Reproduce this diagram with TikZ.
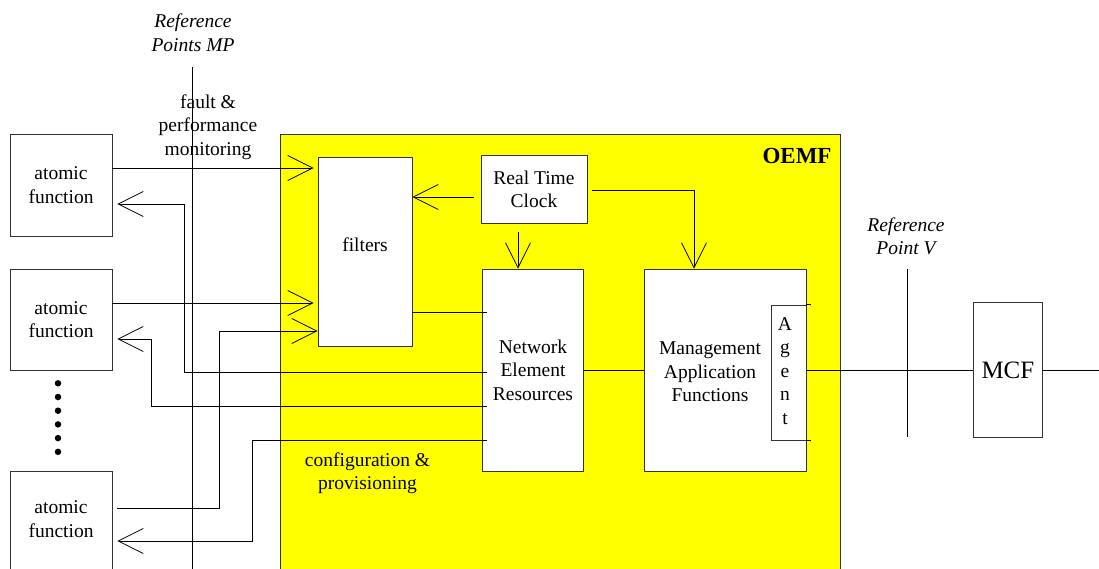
\documentclass[tikz,border=0pt]{standalone}
\usepackage{fontspec}
\setmainfont{Liberation Serif}
\usetikzlibrary{arrows.meta,calc}
\definecolor{oemfyellow}{HTML}{FFFF00}
\definecolor{edge}{HTML}{333333}
\tikzset{
  base/.style={font=\fontsize{19.5}{23.5}\selectfont},
  box/.style={draw=edge, fill=white, line width=0.8pt, inner sep=0pt, align=center, base},
  txt/.style={inner sep=0pt, align=center, base},
  reftxt/.style={inner sep=0pt, align=center, font=\fontsize{19.5}{23.5}\selectfont\itshape},
  wire/.style={line width=0.8pt, draw=black},
  arr/.style={wire, -{Straight Barb[length=25pt,width=25pt]}},
  dot/.style={circle, fill=black, inner sep=0pt, minimum size=6.5pt}
}
\begin{document}
\begin{tikzpicture}[x=1pt,y=-1pt]
\useasboundingbox (0,0) rectangle (1099,568);
\clip (0,0) rectangle (1099,568);
\fill[white] (0,0) rectangle (1099,568);
% OEMF area
\node[draw=edge, line width=0.8pt, fill=oemfyellow, minimum width=560pt, minimum height=466pt, inner sep=0pt, anchor=north west] (oemf) at (280,134) {};
\node[inner sep=0pt, font=\fontsize{23}{26}\selectfont\bfseries] (oemflabel) at (797,156) {OEMF};
% reference line MP
\coordinate (mptop) at (192,67);
\coordinate (mpbot) at (192,600);
\draw[wire] (mptop) -- (mpbot);
\node[reftxt] (refmp) at (193,32.5) {Reference\\Points MP};
\node[txt] (fpm) at (208,127) {fault \&\\performance\\monitoring};
% atomic function boxes
\node[box, minimum width=102pt, minimum height=102pt] (af1) at (61,185) {atomic\\function};
\node[box, minimum width=102pt, minimum height=101pt] (af2) at (61,319.8) {atomic\\function};
\node[box, minimum width=102pt, minimum height=117pt] (af3) at (61,530) {};
\node[txt] (af3t) at (61,519) {atomic\\function};
% dots
\foreach \i [count=\k] in {0,1,2,3,4,5}
  \node[dot] (d\k) at (58,{383.3+13.7*\i}) {};
% inner boxes
\node[box, minimum width=94pt, minimum height=189pt] (filters) at (365,251.5) {};
\node[txt] (filterst) at (365,245) {filters};
\node[box, minimum width=106pt, minimum height=68pt] (rtc) at (534,189.3) {Real Time\\Clock};
\node[box, minimum width=101.4pt, minimum height=202.3pt] (ner) at (533,370.2) {Network\\Element\\Resources};
\node[box, minimum width=161.7pt, minimum height=202.3pt] (maf) at (725.2,370.2) {};
\node[txt] (maft) at (710,372) {Management\\Application\\Functions};
\node[box, minimum width=35pt, minimum height=135pt] (agent) at (788.5,372.5) {};
\node[txt] (agentt) at (785,371) {A\\g\\e\\n\\t};
\draw[wire] (agent.north east) -- ++(5,0);
\draw[wire] (agent.south east) -- ++(5,0);
\node[txt] (config) at (367.5,473) {configuration \&\\provisioning};
% right side
\node[box, minimum width=68.3pt, minimum height=135.4pt, font=\fontsize{25}{28}\selectfont] (mcf) at (1007.9,370) {MCF};
\coordinate (vtop) at (907,269);
\coordinate (vbot) at (907,437);
\draw[wire] (vtop) -- (vbot);
\node[reftxt] (refv) at (906,236.5) {Reference\\Point V};
\coordinate (out) at (1099,370);
% connectors
\draw[arr, shorten >=4pt] (af1.east |- 0,168) -- (filters.west |- 0,168);
\draw[arr] ([xshift=5pt]ner.west |- 0,372) -| (184,204) -- ([xshift=5pt]af1.east |- 0,204);
\draw[arr, shorten >=4pt] (af2.east |- 0,303) -- (filters.west |- 0,303);
\draw[arr] ([xshift=5pt]af3.east |- 0,508) -| (219,331) -- (filters.west |- 0,331);
\draw[arr] ([xshift=5pt]ner.west |- 0,406) -| (151,339) -- ([xshift=5pt]af2.east |- 0,339);
\draw[arr] ([xshift=5pt]ner.west |- 0,440) -| (252,541) -- ([xshift=5pt]af3.east |- 0,541);
\draw[wire] (filters.east |- 0,312) -- ([xshift=5pt]ner.west |- 0,312);
\draw[arr] ([xshift=-7pt]rtc.west |- 0,197) -- (filters.east |- 0,197);
\draw[arr] ([yshift=-8pt]rtc.south -| 518,0) -- (ner.north -| 518,0);
\draw[arr] ([xshift=5pt]rtc.east |- 0,190) -| (maf.north -| 694,0);
\draw[wire] (ner.east |- 0,370) -- (maf.west |- 0,370);
\draw[wire] (maf.east |- 0,370) -- (mcf.west |- 0,370);
\draw[wire] (mcf.east |- 0,370) -- (out);
\end{tikzpicture}
\end{document}
